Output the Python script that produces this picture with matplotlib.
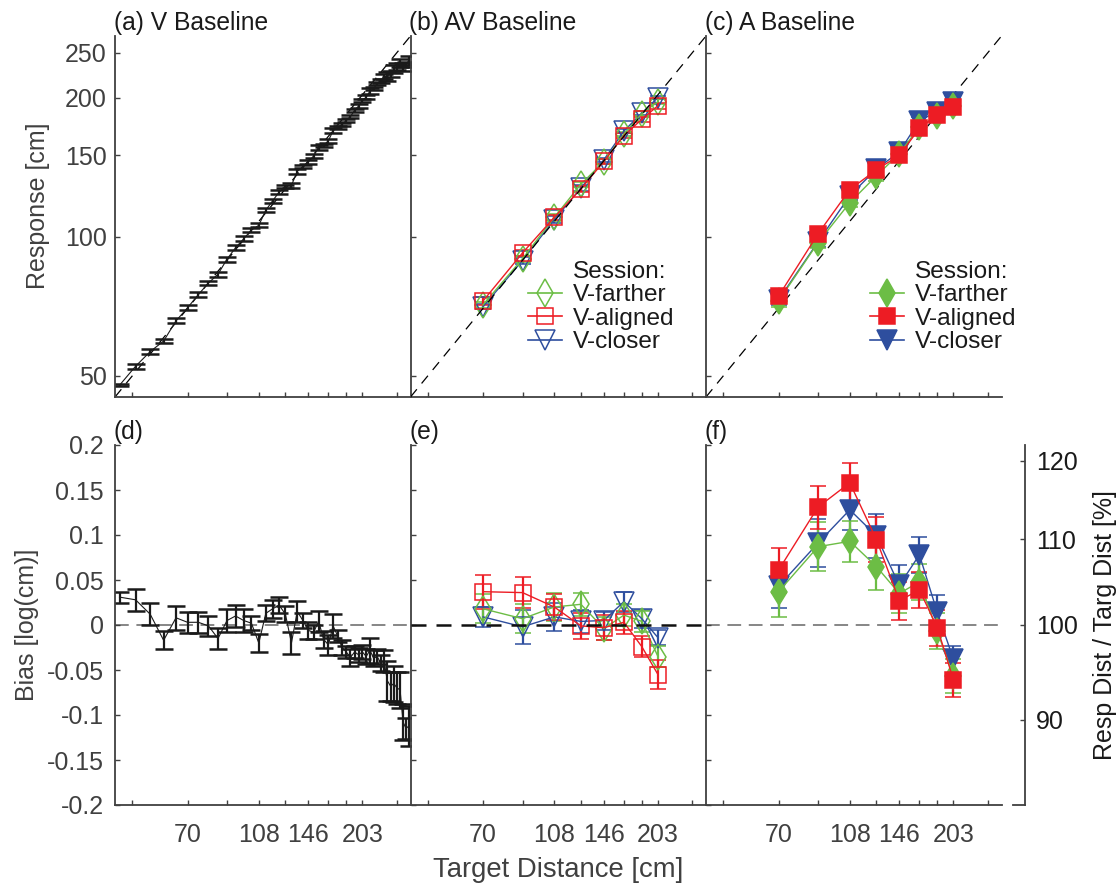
import numpy as np
import matplotlib.pyplot as plt
from matplotlib.lines import Line2D

plt.rcParams['font.family'] = ['Liberation Sans', 'DejaVu Sans']

# ---- data -------------------------------------------------------------
# V baseline: target distance [cm], bias [log(cm)], s.e.m.
v_dist = [46.25, 51.0, 55.75, 60.5, 65.25, 70.0, 74.75, 79.5, 84.25, 89.0,
          93.75, 98.5, 103.25, 108.0, 112.75, 117.5, 122.25, 127.0, 131.75, 136.5,
          141.25, 146.0, 150.75, 155.5, 160.25, 165.0, 169.75, 174.5, 179.25, 184.0,
          188.75, 193.5, 198.25, 203.0, 207.75, 212.5, 217.25, 222.0, 226.75, 231.5,
          236.25, 241.0, 245.75, 250.5, 255.25, 260.0, 264.75, 269.5]
v_bias = [0.031, 0.028, 0.012, -0.017, 0.008, 0.003, 0.003, -0.001, -0.015, 0.005,
          0.010, 0.005, 0.002, -0.020, 0.013, 0.018, 0.022, 0.012, -0.020, 0.015,
          0.005, -0.006, -0.008, 0.004, -0.016, -0.022, -0.001, -0.012, -0.025, -0.030,
          -0.036, -0.030, -0.033, -0.030, -0.035, -0.028, -0.037, -0.035, -0.042, -0.040,
          -0.062, -0.068, -0.065, -0.070, -0.072, -0.108, -0.115, -0.112]
v_err = [0.006, 0.012, 0.012, 0.010, 0.013, 0.012, 0.012, 0.011, 0.012, 0.013,
         0.012, 0.013, 0.008, 0.010, 0.009, 0.010, 0.009, 0.009, 0.012, 0.012,
         0.008, 0.009, 0.008, 0.012, 0.009, 0.011, 0.013, 0.007, 0.008, 0.007,
         0.009, 0.007, 0.008, 0.008, 0.008, 0.014, 0.009, 0.008, 0.009, 0.012,
         0.022, 0.016, 0.020, 0.018, 0.020, 0.020, 0.012, 0.022]

dist = [70, 89, 108, 127, 146, 165, 184, 203]

# AV baseline
av_far = [0.018, 0.007, 0.020, 0.023, -0.004, 0.011, 0.004, -0.035]
av_far_err = [0.016, 0.016, 0.016, 0.013, 0.013, 0.012, 0.012, 0.012]
av_ali = [0.037, 0.036, 0.020, -0.001, -0.003, 0.003, -0.024, -0.055]
av_ali_err = [0.019, 0.017, 0.014, 0.014, 0.014, 0.013, 0.012, 0.016]
av_clo = [0.009, -0.002, 0.009, 0.004, 0.005, 0.026, 0.007, -0.014]
av_clo_err = [0.011, 0.019, 0.016, 0.013, 0.010, 0.011, 0.010, 0.008]

# A baseline
a_far = [0.037, 0.087, 0.093, 0.065, 0.035, 0.048, -0.007, -0.057]
a_far_err = [0.028, 0.027, 0.023, 0.026, 0.022, 0.020, 0.020, 0.019]
a_ali = [0.061, 0.131, 0.158, 0.095, 0.027, 0.039, -0.003, -0.061]
a_ali_err = [0.025, 0.024, 0.022, 0.025, 0.021, 0.020, 0.020, 0.019]
a_clo = [0.043, 0.091, 0.128, 0.099, 0.044, 0.078, 0.014, -0.038]
a_clo_err = [0.024, 0.027, 0.022, 0.024, 0.023, 0.020, 0.019, 0.015]

x_ticks = [50, 70, 89, 108, 127, 146, 165, 184, 203, 250]
x_ticklabels = ['', '70', '', '108', '', '146', '', '', '203', '']
resp_ticks = [50, 100, 150, 200, 250]
bias_ticks = [-0.2, -0.15, -0.1, -0.05, 0, 0.05, 0.1, 0.15, 0.2]
bias_ticklabels = ['-0.2', '-0.15', '-0.1', '-0.05', '0', '0.05', '0.1', '0.15', '0.2']
pct_ticks = [90, 100, 110, 120]

lim = [45, 272]
green = '#6cbd45'
red = '#ed1c24'
blue = '#2e4e9e'
axc = '#404040'
txtc = '#1a1a1a'

W, H = 1118, 886
fig = plt.figure(figsize=(W / 100, H / 100), dpi=100)


def rect(x0, y0, x1, y1):
    return [x0 / W, 1 - y1 / H, (x1 - x0) / W, (y1 - y0) / H]


cols = [(115, 410.5), (410.5, 706), (706, 1001.5)]
top = [fig.add_axes(rect(c[0], 36, c[1], 397)) for c in cols]
bot = [fig.add_axes(rect(c[0], 445, c[1], 805)) for c in cols]


def style(ax):
    for s in ['top', 'right']:
        ax.spines[s].set_visible(False)
    for s in ['left', 'bottom']:
        ax.spines[s].set_color(axc)
        ax.spines[s].set_linewidth(1.3)
    ax.tick_params(direction='in', length=3.5, width=1.0, color=axc,
                   labelcolor=axc, labelsize=18)
    ax.patch.set_alpha(0)


for i, ax in enumerate(top):
    style(ax)
    ax.set_xscale('log')
    ax.set_yscale('log')
    ax.set_xlim(lim)
    ax.set_ylim(lim)
    ax.set_xticks(x_ticks, [''] * len(x_ticks))
    ax.set_yticks(resp_ticks, [str(t) for t in resp_ticks] if i == 0 else [''] * 5)
    ax.minorticks_off()
    ax.tick_params(axis='y', pad=6)
    ax.plot(lim, lim, color='k', lw=0.9, dashes=(8, 6), zorder=5 if i == 1 else 1)

for i, ax in enumerate(bot):
    style(ax)
    ax.set_xscale('log')
    ax.set_xlim(lim)
    ax.set_ylim(-0.2, 0.2)
    ax.set_xticks(x_ticks, x_ticklabels)
    ax.set_yticks(bias_ticks, bias_ticklabels if i == 0 else [''] * 9)
    ax.minorticks_off()
    ax.tick_params(axis='x', pad=13)
    ax.tick_params(axis='y', pad=8)
    if i == 1:
        ax.axhline(0, color='#111111', lw=1.8, dashes=(6, 4), zorder=5)
    else:
        ax.axhline(0, color='#666666', lw=1.1, dashes=(9, 5), zorder=1)


def resp_err(d, b, e):
    d, b, e = np.array(d, float), np.array(b), np.array(e)
    r = d * np.exp(b)
    return r, [r - d * np.exp(b - e), d * np.exp(b + e) - r]


# (a)/(d) V baseline
r, re = resp_err(v_dist, v_bias, v_err)
kw = dict(color='#1a1a1a', lw=0.8, elinewidth=1.6, capsize=6.5, capthick=1.8)
top[0].errorbar(v_dist, r, yerr=re, **kw)
bot[0].errorbar(v_dist, v_bias, yerr=v_err, **kw)

sessions = [
    ('V-closer', blue, 'v', 15, (av_clo, av_clo_err), (a_clo, a_clo_err)),
    ('V-farther', green, 'd', 13, (av_far, av_far_err), (a_far, a_far_err)),
    ('V-aligned', red, 's', 11.5, (av_ali, av_ali_err), (a_ali, a_ali_err)),
]
for name, c, m, ms, av, a in sessions:
    for col, (b, e), filled in [(1, av, False), (2, a, True)]:
        mk = dict(color=c, marker=m, ms=ms, mec=c, mew=1.1,
                  mfc=c if filled else 'none', lw=1.0,
                  elinewidth=1.6, capsize=5.5, capthick=1.8)
        r, re = resp_err(dist, b, e)
        top[col].errorbar(dist, r, yerr=re, **mk)
        bot[col].errorbar(dist, b, yerr=e, **mk)

# legends
for col, filled, x in [(1, False, 528), (2, True, 870)]:
    hs = [Line2D([], [], linestyle='none')]
    for c, m, ms in [(green, 'd', 14), (red, 's', 12), (blue, 'v', 15)]:
        hs.append(Line2D([], [], color=c, marker=m, ms=ms, mec=c, mew=1.1,
                         mfc=c if filled else 'none', lw=1.2))
    top[col].legend(hs, ['Session:', 'V-farther', 'V-aligned', 'V-closer'],
                    loc='upper left', bbox_to_anchor=(x / W, 1 - 261 / H),
                    bbox_transform=fig.transFigure, frameon=False,
                    borderpad=0, borderaxespad=0, handlelength=1.4,
                    handletextpad=0.45, labelspacing=0.05, fontsize=17.6,
                    labelcolor=txtc)

# panel titles
titles = ['(a) V Baseline', '(b) AV Baseline', '(c) A Baseline', '(d)', '(e)', '(f)']
for ax, t in zip(top + bot, titles):
    ax.annotate(t, (0, 1), xycoords='axes fraction', xytext=(-1, 1),
                textcoords='offset points', ha='left', va='bottom',
                fontsize=17.7, color=txtc)

# right-hand percent axis
rax = fig.add_axes(rect(1013, 445, 1025, 805))
rax.set_ylim(-0.2, 0.2)
rax.set_xticks([])
rax.patch.set_alpha(0)
for s in ['top', 'left']:
    rax.spines[s].set_visible(False)
for s in ['right', 'bottom']:
    rax.spines[s].set_color(axc)
    rax.spines[s].set_linewidth(1.3)
rax.yaxis.tick_right()
rax.set_yticks(np.log(np.array(pct_ticks) / 100), [str(p) for p in pct_ticks])
rax.tick_params(axis='y', direction='in', length=3.5, width=1.0, color=axc,
                labelcolor=txtc, labelsize=18, pad=8)

# axis labels
fig.text(38 / W, 1 - 206 / H, 'Response [cm]', rotation=90, ha='center',
         va='center', fontsize=18, color=axc)
fig.text(27 / W, 1 - 625 / H, 'Bias [log(cm)]', rotation=90, ha='center',
         va='center', fontsize=18, color=axc)
fig.text(1105 / W, 1 - 625 / H, 'Resp Dist / Targ Dist [%]', rotation=90,
         ha='center', va='center', fontsize=18, color=txtc)
fig.text(558 / W, 1 - 870 / H, 'Target Distance [cm]', ha='center',
         va='center', fontsize=19.8, color=axc)

fig.savefig('out.png', dpi=100)
